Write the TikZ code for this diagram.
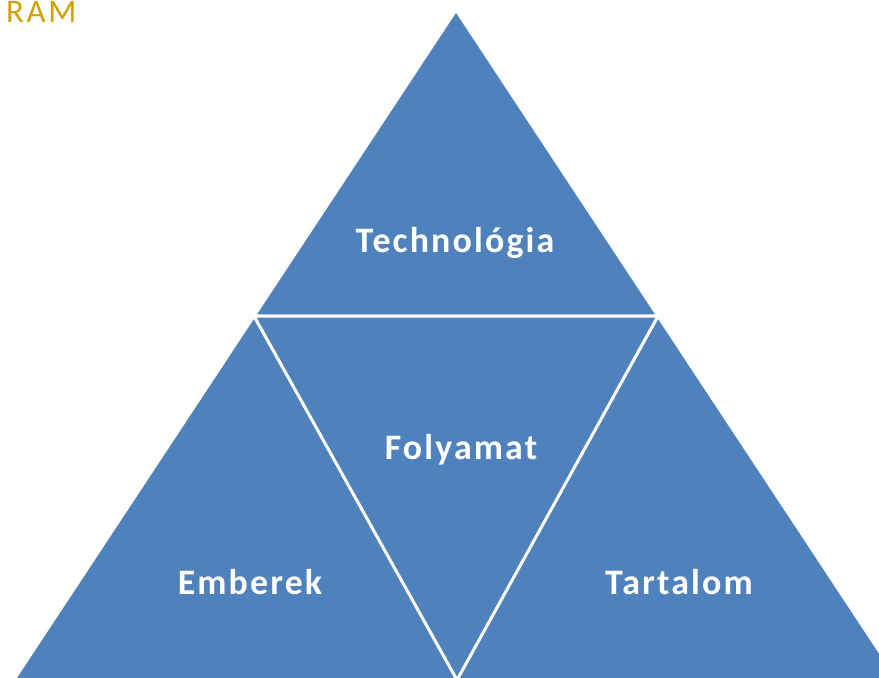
\documentclass[tikz,border=0pt]{standalone}
\usepackage{fontspec}
\usepackage{xcolor}
\setmainfont{Carlito}
\newfontfamily\segfont[LetterSpace=6]{Carlito}
\newfontfamily\titlefont[LetterSpace=8]{Carlito}
\definecolor{segblue}{HTML}{4F81BD}
\definecolor{titlegold}{HTML}{D4A000}

\begin{document}
\begin{tikzpicture}[
				x=1bp, y=-1bp,
				segment/.style={fill=segblue, draw=white, line width=3bp, line join=miter},
				seglabel/.style={anchor=base, text=white, inner sep=0pt, font=\segfont\bfseries\fontsize{36}{42}\selectfont}
				]
				\useasboundingbox (0,0) rectangle (879,678);
				\clip (0,0) rectangle (879,678);
				% corners of the pyramid
				\coordinate (apex) at (456,10);
				\coordinate (midL) at (254,316);
				\coordinate (midR) at (658,316);
				\coordinate (low) at (457,680);
				% outer segments
				\draw[segment] (apex) -- (midL) -- (midR) -- cycle;
				\draw[segment] (midL) -- (-10,716) -- (480,716) -- cycle;
				\draw[segment] (midR) -- (434,716) -- (922,716) -- cycle;
				% inner segment
				\draw[segment] (midL) -- (midR) -- (low) -- cycle;
				% labels
				\node[seglabel] (tech) at (455,252) {Technológia};
				\node[seglabel] (proc) at (461,459) {Folyamat};
				\node[seglabel] (people) at (250,594) {Emberek};
				\node[seglabel] (content) at (679,594) {Tartalom};
				\node[anchor=base west, inner sep=0pt, text=titlegold, font=\titlefont\fontsize{33}{36}\selectfont] (title) at (6,23) {RAM};
			\end{tikzpicture}
\end{document}
